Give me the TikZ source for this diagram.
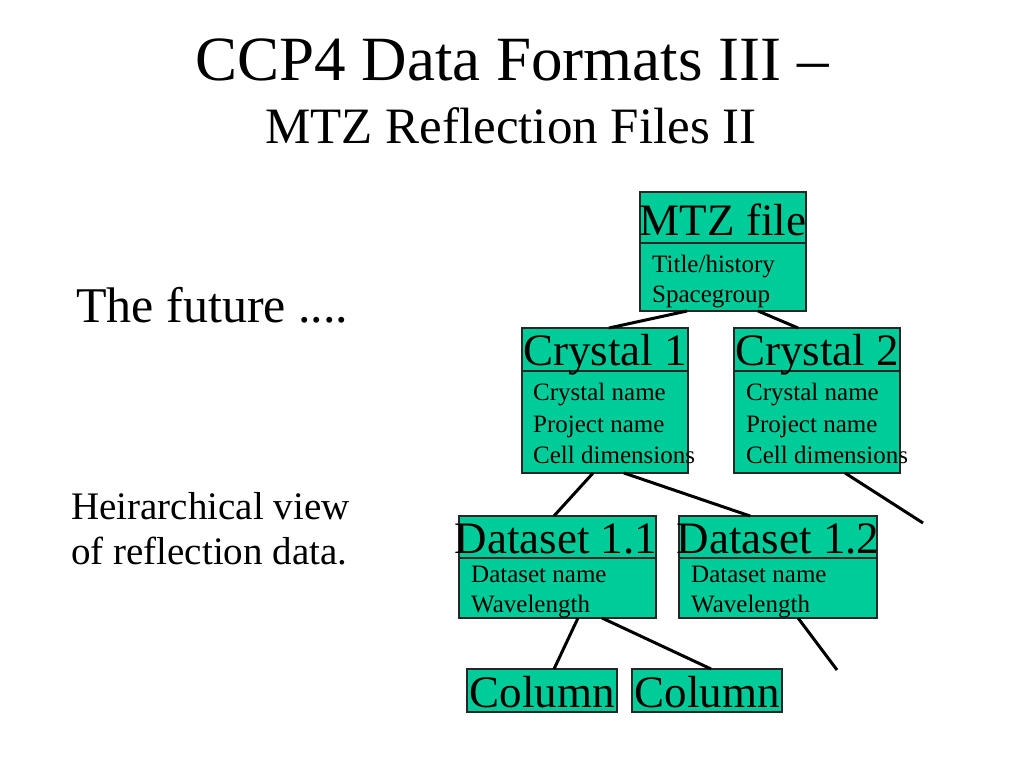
\documentclass[tikz,border=0pt]{standalone}
\usepackage{fontspec}
\setmainfont{Liberation Serif}
\usetikzlibrary{calc}
\definecolor{boxgreen}{RGB}{0,204,153}
\tikzset{
	box/.style={draw=black!85, line width=1.3pt, fill=boxgreen, anchor=north west, inner sep=0pt, outer sep=0pt},
	head/.style={anchor=base, inner sep=0pt, font=\fontsize{45}{54}\selectfont},
	item/.style={anchor=base west, inner sep=0pt, font=\fontsize{25}{30}\selectfont},
	link/.style={black, line width=3pt},
}
\begin{document}
\begin{tikzpicture}[x=1pt, y=-1pt]
		\useasboundingbox[fill=white] (0,0) rectangle (1024,768);
		% title
		\node[anchor=base, inner sep=0pt, font=\fontsize{63}{70}\selectfont] (title) at (512,80) {CCP4 Data Formats III --};
		\node[anchor=base, inner sep=0pt, font=\fontsize{51}{60}\selectfont] (subtitle) at (511,143) {MTZ Reflection Files II};
		\node[anchor=base west, inner sep=0pt, font=\fontsize{50}{58}\selectfont] (future) at (76,322) {The future ....};
		\node[anchor=base west, inner sep=0pt, font=\fontsize{39}{45}\selectfont, align=left] (view) at (71,564) {Heirarchical view\\of reflection data.};
		%
		% boxes
		\node[box, minimum width=166pt, minimum height=51pt] (mtz) at (640,192) {};
		\node[box, minimum width=166pt, minimum height=68pt] (mtzbody) at (mtz.south west) {};
		\node[box, minimum width=166pt, minimum height=43pt] (cryA) at (522,328) {};
		\node[box, minimum width=166pt, minimum height=102pt] (cryAbody) at (cryA.south west) {};
		\node[box, minimum width=166pt, minimum height=43pt] (cryB) at (734,328) {};
		\node[box, minimum width=166pt, minimum height=102pt] (cryBbody) at (cryB.south west) {};
		\node[box, minimum width=197pt, minimum height=42pt] (dsA) at (459,516) {};
		\node[box, minimum width=197pt, minimum height=60pt] (dsAbody) at (dsA.south west) {};
		\node[box, minimum width=198pt, minimum height=42pt] (dsB) at (679,516) {};
		\node[box, minimum width=198pt, minimum height=60pt] (dsBbody) at (dsB.south west) {};
		\node[box, minimum width=150pt, minimum height=43pt] (colA) at (467,669) {};
		\node[box, minimum width=150pt, minimum height=43pt] (colB) at (632,669) {};
		%
		% texts
		\node[head] at (723,235) {MTZ file};
		\node[item] at (652,272) {Title/history};
		\node[item] at (652,302) {Spacegroup};
		\node[head] at (605,365) {Crystal 1};
		\node[head] at (817,365) {Crystal 2};
		\foreach \x in {533,746} {
			\node[item] at (\x,400) {Crystal name};
			\node[item] at (\x,432) {Project name};
			\node[item] at (\x,463) {Cell dimensions};
		}
		\node[head] at (556,553) {Dataset 1.1};
		\node[head] at (778,553) {Dataset 1.2};
		\foreach \x in {471,691} {
			\node[item] at (\x,582) {Dataset name};
			\node[item] at (\x,612) {Wavelength};
		}
		\node[head] at (542,707) {Column};
		\node[head] at (707,707) {Column};
		%
		% links
		\coordinate (cryBend) at (923,523);
		\coordinate (dsBend) at (837,670);
		\draw[link] ($(mtzbody.south west)!0.283!(mtzbody.south east)$) -- ($(cryA.north west)!0.524!(cryA.north east)$);
		\draw[link] ($(mtzbody.south west)!0.711!(mtzbody.south east)$) -- ($(cryB.north west)!0.386!(cryB.north east)$);
		\draw[link] ($(cryAbody.south west)!0.428!(cryAbody.south east)$) -- ($(dsA.north west)!0.482!(dsA.north east)$);
		\draw[link] ($(cryAbody.south west)!0.614!(cryAbody.south east)$) -- ($(dsB.north west)!0.359!(dsB.north east)$);
		\draw[link] ($(cryBbody.south west)!0.669!(cryBbody.south east)$) -- (cryBend);
		\draw[link] ($(dsAbody.south west)!0.604!(dsAbody.south east)$) -- ($(colA.north west)!0.58!(colA.north east)$);
		\draw[link] ($(dsAbody.south west)!0.726!(dsAbody.south east)$) -- ($(colB.north west)!0.527!(colB.north east)$);
		\draw[link] ($(dsBbody.south west)!0.601!(dsBbody.south east)$) -- (dsBend);
	\end{tikzpicture}
\end{document}
